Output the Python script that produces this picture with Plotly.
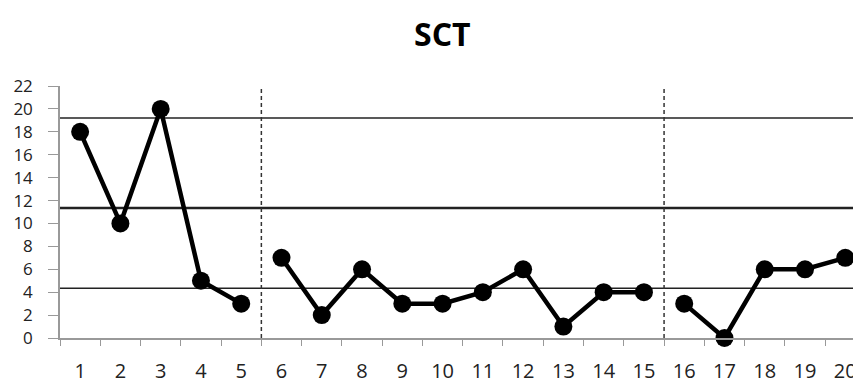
import plotly.graph_objects as go

# Data
sessions = [str(s) for s in range(1, 21)]
phase_a1_x = ["1", "2", "3", "4", "5"]
phase_a1_y = [18, 10, 20, 5, 3]
phase_b_x = ["6", "7", "8", "9", "10", "11", "12", "13", "14", "15"]
phase_b_y = [7, 2, 6, 3, 3, 4, 6, 1, 4, 4]
phase_a2_x = ["16", "17", "18", "19", "20"]
phase_a2_y = [3, 0, 6, 6, 7]
ref_lines = [19.2, 11.35, 4.35]
ref_widths = [1.5, 2.5, 1.5]
phase_breaks = [4.5, 14.5]   # category-index positions between sessions 5|6 and 15|16
y_ticks = list(range(0, 23, 2))
chart_title = "SCT"

fig = go.Figure()
for xs, ys in [(phase_a1_x, phase_a1_y), (phase_b_x, phase_b_y), (phase_a2_x, phase_a2_y)]:
    fig.add_trace(go.Scatter(
        x=xs, y=ys, mode="lines+markers",
        line=dict(color="black", width=4.5),
        marker=dict(color="black", size=18),
        cliponaxis=False, showlegend=False,
    ))

for v, w in zip(ref_lines, ref_widths):
    fig.add_shape(type="line", xref="paper", yref="y", x0=0, x1=1, y0=v, y1=v,
                  line=dict(color="#222222", width=w), layer="below")

for b in phase_breaks:
    fig.add_shape(type="line", xref="x", yref="y", x0=b, x1=b, y0=0, y1=22.2,
                  line=dict(color="#333333", width=1.5, dash="4px,3px"), layer="below")

fig.add_annotation(
    text=f"<b>{chart_title}</b>", xref="paper", yref="paper", x=0.477, y=1.21,
    xanchor="center", yanchor="middle", showarrow=False,
    font=dict(family="Open Sans", size=32, color="black"),
)

fig.update_layout(
    width=853, height=376,
    margin=dict(l=52, r=0, t=78, b=46),
    paper_bgcolor="white", plot_bgcolor="white",
    font=dict(family="Open Sans", color="#222222"),
)
fig.update_xaxes(
    type="category", categoryorder="array", categoryarray=sessions,
    range=[-0.5, 19.39],
    showgrid=False, zeroline=False,
    showline=True, linecolor="#999999", linewidth=1.5,
    ticks="outside", ticklen=6, tickcolor="#999999", tickson="boundaries",
    tickfont=dict(size=20, color="#222222"), ticklabelstandoff=14,
    automargin=False,
)
fig.update_yaxes(
    range=[0, 22], tickmode="array", tickvals=y_ticks,
    showgrid=False, zeroline=False,
    showline=True, linecolor="#999999", linewidth=1.5,
    ticks="outside", ticklen=10, tickcolor="#999999",
    tickfont=dict(size=17, color="#222222"), ticklabelstandoff=12,
    automargin=False,
)

fig.write_html("out.html")
